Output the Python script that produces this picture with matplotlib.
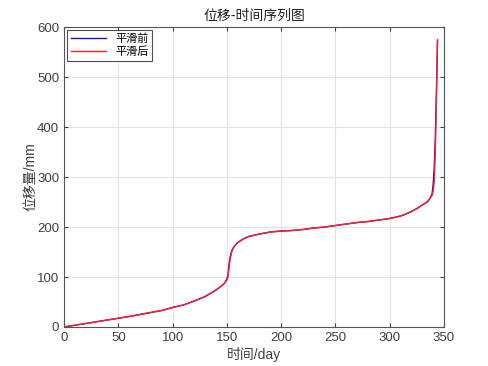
import numpy as np
import matplotlib
matplotlib.use('Agg')
import matplotlib.pyplot as plt

plt.rcParams['font.family'] = ['Liberation Sans', 'Noto Sans CJK SC', 'DejaVu Sans']

days = [0, 10, 20, 30, 40, 50, 60, 70, 80, 90, 100, 110, 120, 130, 140, 145, 148,
        150, 151, 152, 153, 154, 155, 157, 160, 165, 170, 180, 190, 200, 210, 220,
        230, 240, 250, 260, 270, 280, 290, 300, 310, 315, 320, 325, 330, 335, 337,
        339, 340, 341, 342, 343, 344]

smoothed = [0, 3.5, 7, 10.5, 14, 17.5, 21, 25, 29, 33, 39, 44, 52, 61, 74, 82, 88,
            94, 100, 118, 135, 146, 154, 162, 169, 176, 181, 186, 190, 192, 193, 195,
            198, 200, 203, 206, 209, 211, 214, 217, 222, 226, 231, 237, 244, 251, 257,
            263, 272, 290, 350, 450, 575]

raw = [0, 3.5, 7, 10.5, 14, 17.5, 21, 25, 29, 33, 39, 44, 52, 61, 74, 82, 88,
       96, 104, 126, 140, 149, 155, 162, 169, 176, 181, 186, 190, 192, 193, 195,
       198, 200, 203, 206, 209, 211, 214, 217, 222, 226, 231, 237, 244, 251, 257,
       266, 285, 320, 380, 470, 572]

fig = plt.figure(figsize=(4.89, 3.66), dpi=100)
ax = fig.add_axes([0.131, 0.1066, 0.777, 0.8194])

ax.plot(days, raw, color='#1a10c8', lw=1.0, label='平滑前')
ax.plot(days, smoothed, color='#ff2020', lw=1.0, label='平滑后')

ax.set_xlim(0, 350)
ax.set_ylim(0, 600)
ax.set_xticks(np.arange(0, 351, 50))
ax.set_yticks(np.arange(0, 601, 100))
ax.grid(True, color='#e3e3e3', lw=0.8)
ax.set_axisbelow(True)
ax.tick_params(direction='in', top=True, right=True, labelsize=9.5,
               colors='#404040', length=3)
for s in ax.spines.values():
    s.set_color('#555555')
    s.set_linewidth(0.8)

ax.set_title('位移-时间序列图', fontsize=10, color='#222222', pad=5,
             family=['Noto Sans CJK SC', 'DejaVu Sans'])
ax.set_xlabel('时间/day', fontsize=10, color='#404040', labelpad=2)
ax.set_ylabel('位移量/mm', fontsize=10, color='#404040', labelpad=0)

leg = ax.legend(loc='upper left', fontsize=8, frameon=True, fancybox=False,
                borderpad=0.3, handlelength=3.2, labelspacing=0.2,
                borderaxespad=0.3,
                prop={'family': ['Noto Sans CJK SC', 'DejaVu Sans'], 'size': 8})
leg.get_frame().set_edgecolor('#222222')
leg.get_frame().set_linewidth(0.8)

fig.savefig('out.png', dpi=100)
